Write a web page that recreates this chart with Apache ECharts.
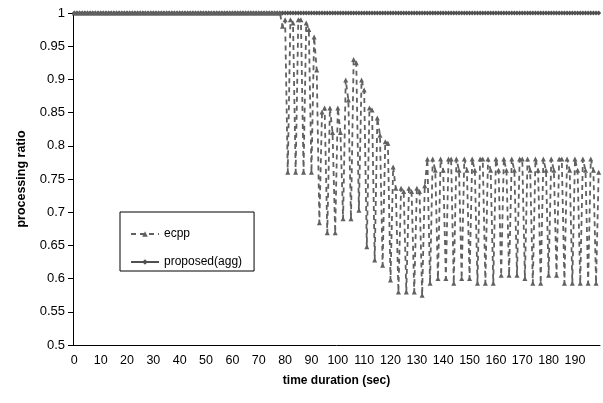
<!DOCTYPE html>
<html>
<head>
<meta charset="utf-8">
<script src="https://cdn.jsdelivr.net/npm/echarts@6/dist/echarts.min.js"></script>
<style>html,body{margin:0;padding:0;background:#fff}#c{width:603px;height:403px}</style>
</head>
<body>
<div id="c"></div>
<script>
// categories: 0..199 seconds
const categories = [];
for (let i = 0; i < 200; i++) categories.push(String(i));

// ecpp values (index 0..199)
const ecppHead = [ // 0..78
1,1,1,1,1,1,1,1,1,1, 1,1,1,1,1,1,1,1,1,1,
1,1,1,1,1,1,1,1,1,1, 1,1,1,1,1,1,1,1,1,1,
1,1,1,1,1,1,1,1,1,1, 1,1,1,1,1,1,1,1,1,1,
1,1,1,1,1,1,1,1,1,1, 1,1,1,1,1,1,1,1,1];
const ecppTail = [ // 79..199
0.98,0.99,0.76, 0.99,0.985,0.76, 0.99,0.99,0.76, 0.985,0.975,0.76,
0.964,0.914,0.684, 0.851,0.857,0.669, 0.857,0.82,0.669, 0.857,0.82,0.69,
0.899,0.869,0.69, 0.93,0.925,0.703, 0.899,0.884,0.648, 0.857,0.854,0.628,
0.842,0.816,0.62, 0.806,0.804,0.598, 0.768,0.736,0.58, 0.736,0.731,0.58,
0.736,0.731,0.58, 0.736,0.731,0.575, 0.74,0.78,0.593, 0.78,0.763,0.6,
0.78,0.763,0.6, 0.78,0.78,0.593, 0.78,0.763,0.6, 0.78,0.763,0.6,
0.78,0.763,0.593, 0.78,0.78,0.593, 0.78,0.763,0.593, 0.78,0.763,0.605,
0.78,0.763,0.605, 0.78,0.763,0.605, 0.78,0.78,0.6, 0.78,0.763,0.593,
0.78,0.763,0.593, 0.78,0.763,0.605, 0.78,0.763,0.605, 0.78,0.78,0.593,
0.78,0.763,0.593, 0.78,0.763,0.593, 0.78,0.763,0.593, 0.78,0.763,0.593,
0.76];
const ecpp = ecppHead.concat(ecppTail);

// proposed(agg) values: constant 1
const proposed = [];
for (let i = 0; i < 200; i++) proposed.push(1);

const yTicks = { min: 0.5, max: 1, interval: 0.05 };

const chart = echarts.init(document.getElementById('c'));
chart.setOption({
  animation: false,
  backgroundColor: '#fff',
  textStyle: { fontFamily: 'Liberation Sans, Arial, sans-serif' },
  grid: { left: 73, right: 3, top: 13, bottom: 58, containLabel: false },
  legend: {
    orient: 'vertical', left: 120, top: 212,
    borderColor: '#000', borderWidth: 1, borderRadius: 0,
    padding: [16, 12, 3, 10], itemGap: 16, itemWidth: 28, itemHeight: 7,
    textStyle: { fontSize: 12, color: '#000', fontFamily: 'Liberation Sans, Arial, sans-serif' },
    data: ['ecpp', 'proposed(agg)']
  },
  xAxis: {
    type: 'category', data: categories, boundaryGap: true,
    name: 'time duration (sec)', nameLocation: 'middle', nameGap: 30,
    nameTextStyle: { fontWeight: 'bold', fontSize: 12, color: '#000' },
    axisLine: { lineStyle: { color: '#000', width: 1 } },
    axisTick: { interval: 0, length: 4, lineStyle: { color: '#000' } },
    axisLabel: { interval: 9, color: '#000', fontSize: 12.5, margin: 9 },
    splitLine: { show: false }
  },
  yAxis: {
    type: 'value', min: yTicks.min, max: yTicks.max, interval: yTicks.interval,
    name: 'processing ratio', nameLocation: 'middle', nameGap: 45, nameRotate: 90,
    nameTextStyle: { fontWeight: 'bold', fontSize: 12.5, color: '#000' },
    axisLine: { show: true, lineStyle: { color: '#000', width: 1 } },
    axisTick: { show: true, length: 5, lineStyle: { color: '#000' } },
    axisLabel: { color: '#000', fontSize: 13, margin: 8 },
    splitLine: { show: false }
  },
  series: [
    {
      name: 'ecpp', type: 'line', data: ecpp,
      symbol: 'triangle', symbolSize: 5, showAllSymbol: true,
      itemStyle: { color: '#606060' },
      lineStyle: { color: '#606060', width: 1.8, type: [5, 4] },
      clip: false, z: 3
    },
    {
      name: 'proposed(agg)', type: 'line', data: proposed,
      symbol: 'diamond', symbolSize: 5, showAllSymbol: true,
      itemStyle: { color: '#505050' },
      lineStyle: { color: '#505050', width: 1.2 },
      clip: false, z: 2
    }
  ]
});
</script>
</body>
</html>
